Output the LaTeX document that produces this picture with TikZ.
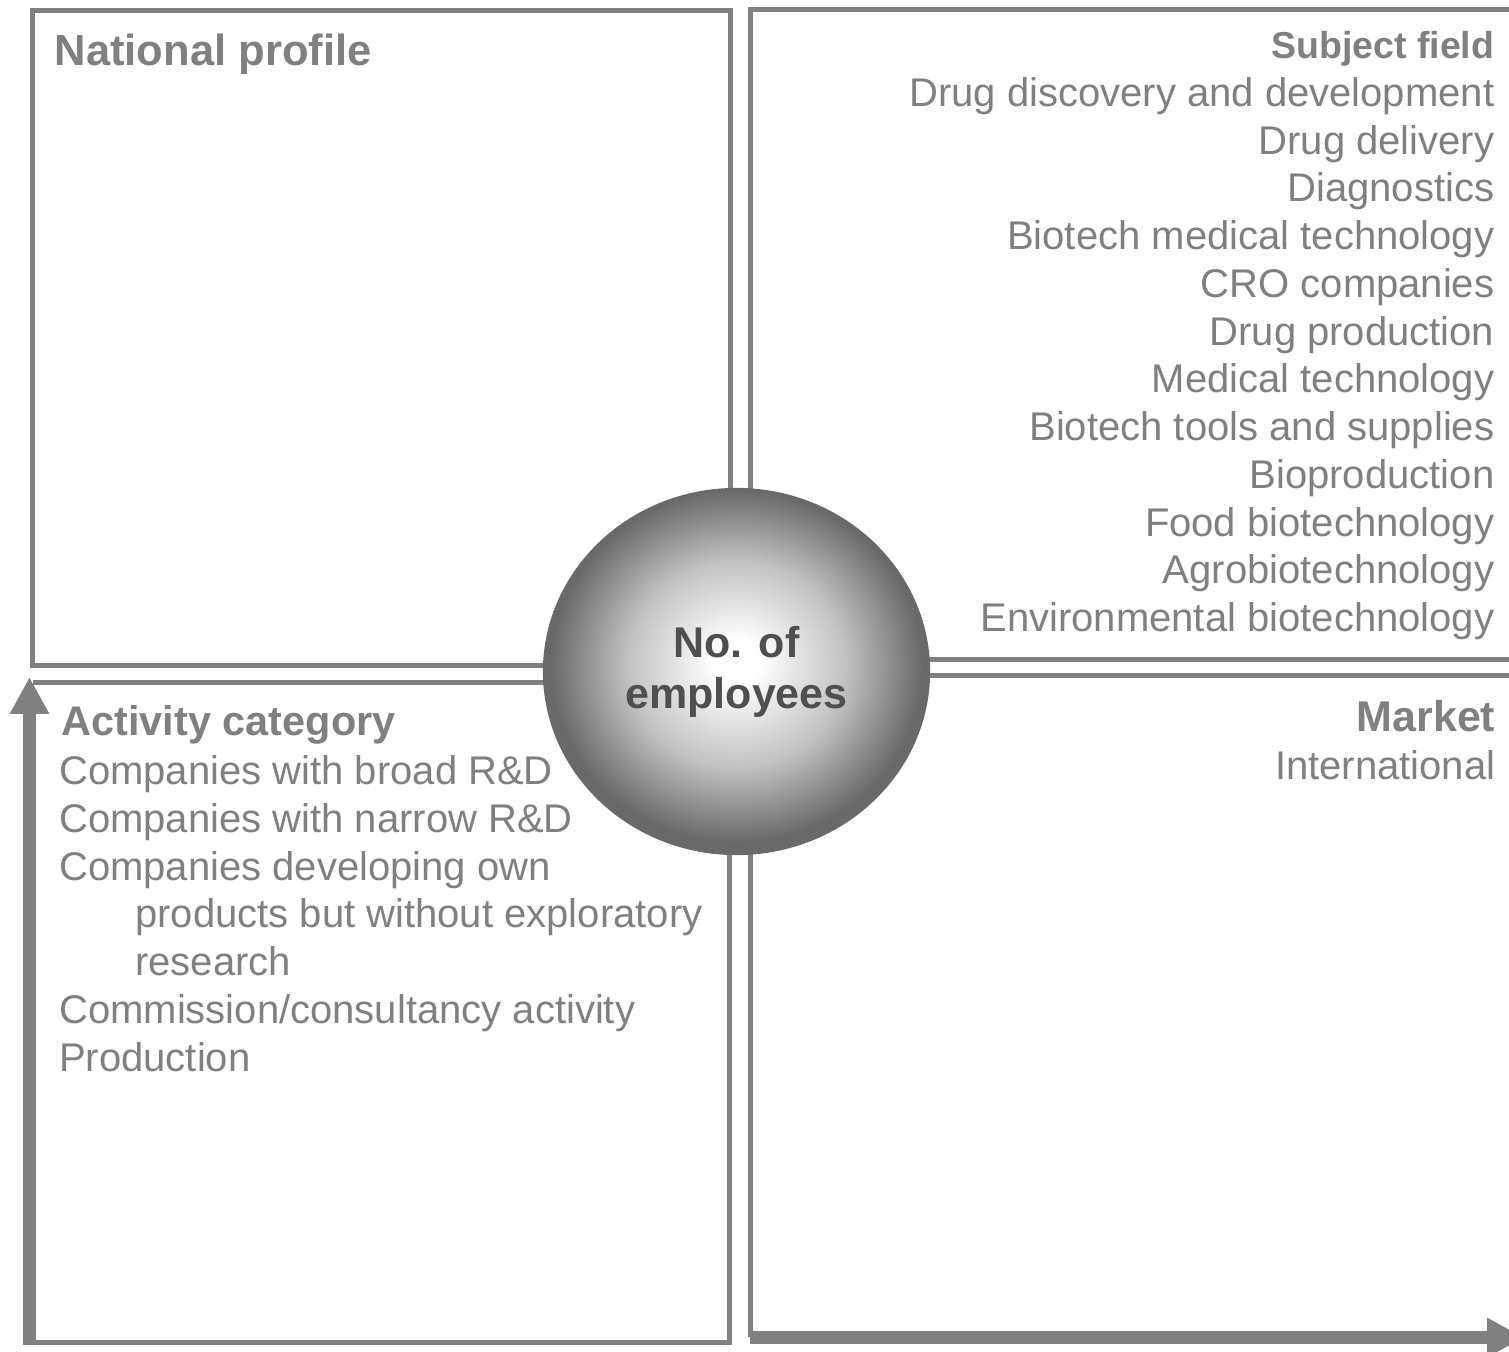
\documentclass[tikz,border=0pt]{standalone}
\usepackage{fontspec}
\setmainfont{Liberation Sans}
\usepackage{tikz}
\usetikzlibrary{arrows.meta, shapes.geometric}

\definecolor{framegray}{HTML}{808080}
\definecolor{ballgray}{HTML}{696969}
\definecolor{ballmid}{HTML}{C2C2C2}
\definecolor{labelgray}{HTML}{4F4F4F}
\pgfdeclareradialshading{ballshade}{\pgfpoint{0bp}{1.4bp}}{%
    color(0bp)=(white); color(3bp)=(white); color(14bp)=(ballmid); color(24bp)=(ballgray); color(50bp)=(ballgray)}

\tikzset{
    frame/.style = {draw=framegray, line width=1.42pt},
    axis/.style = {draw=framegray, line width=3.7pt, -{Triangle[width=10.5pt, length=10.5pt]}},
    item/.style = {inner sep=0pt, text=framegray, font=\fontsize{11.38}{13.6}\selectfont},
    head/.style = {inner sep=0pt, text=framegray, font=\bfseries\fontsize{#1}{14}\selectfont},
}

\begin{document}
\begin{tikzpicture}[x=0.01cm, y=-0.01cm]
        \useasboundingbox (0, 0) rectangle (1509, 1351);
        \clip (0, 0) rectangle (1509, 1351);
        % the four quadrants
        \draw[frame] (32.5, 10) rectangle (730.5, 665.5);
        \draw[frame] (1540, 9.5) -- (750.5, 9.5) -- (750.5, 659.5) -- (1540, 659.5);
        \draw[frame] (33, 682.5) -- (729.5, 682.5) -- (729.5, 1342.5) -- (29.5, 1342.5);
        \draw[frame] (750.5, 1337) -- (750.5, 675.5) -- (1540, 675.5);
        % axes
        \coordinate (ybase) at (29.5, 1345);
        \coordinate (ytip) at (29.5, 677);
        \coordinate (xbase) at (750, 1337.5);
        \coordinate (xtip) at (1524, 1337.5);
        \draw[axis] (ybase) -- (ytip);
        \draw[axis] (xbase) -- (xtip);
        % headings
        \node[head=12.38, anchor=base west] (natl) at (54, 65) {National profile};
        \node[head=10.67, anchor=base east] (subj) at (1495, 58) {Subject field};
        \node[head=11.78, anchor=base west] (actv) at (61, 735) {Activity category};
        \node[head=12.23, anchor=base east] (mkt) at (1496, 731) {Market};
        \node[item, anchor=base east] (intl) at (1496, 779) {International};
        \foreach \txt [count=\i] in {Drug discovery and development, Drug delivery, Diagnostics,
            Biotech medical technology, CRO companies, Drug production, Medical technology,
            Biotech tools and supplies, Bioproduction, Food biotechnology, Agrobiotechnology,
            Environmental biotechnology}
            \node[item, anchor=base east] (field\i) at (1495, {58.5 + 47.75*\i}) {\txt};
        \foreach \x/\txt [count=\i] in {58.5/Companies with broad R\&D, 58.5/Companies with narrow R\&D,
            58.5/Companies developing own, 134.5/products but without exploratory, 134.5/research,
            58.5/{Commission/consultancy activity}, 58.5/Production}
            \node[item, anchor=base west] (cat\i) at (\x, {736.75 + 47.75*\i}) {\txt};
        % centre ball
        \node[ellipse, shading=ballshade, minimum width=3.87cm, minimum height=3.67cm, inner sep=0pt,
            align=center, text=labelgray, font=\bfseries\fontsize{12.23}{14.5}\selectfont]
            (staff) at (736.5, 671.5) {No. of\\employees};
\end{tikzpicture}
\end{document}
